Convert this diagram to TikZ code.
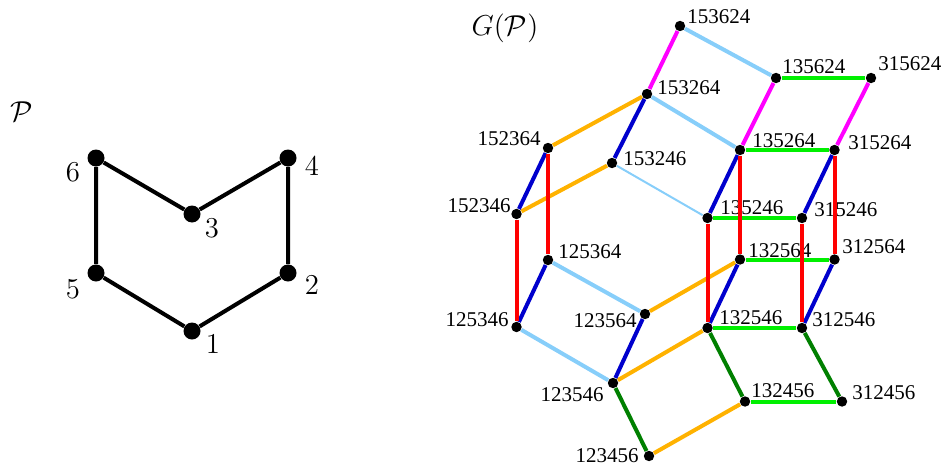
\documentclass[tikz,border=0pt]{standalone}
\usepackage{amsmath,amssymb}
\usepackage{fontspec}
\newfontfamily\permfont{Liberation Serif}
\definecolor{flipmag}{RGB}{255,0,255}
\definecolor{flipsky}{RGB}{135,206,250}
\definecolor{flipgrn}{RGB}{0,240,0}
\definecolor{fliporg}{RGB}{255,178,0}
\definecolor{flipblu}{RGB}{0,0,205}
\definecolor{flipred}{RGB}{255,0,0}
\definecolor{flipdkg}{RGB}{0,128,0}

\begin{document}
\begin{tikzpicture}[x=0.5pt, y=-0.5pt,
                    pdot/.style={circle, fill=black, inner sep=0pt, minimum size=8.5pt},
                    gdot/.style={circle, fill=black, inner sep=0pt, minimum size=5.2pt},
                    pnum/.style={font=\Large, inner sep=0pt},
                    perm/.style={font=\permfont\fontsize{10.5}{12}\selectfont, inner sep=0pt},
                    cover/.style={line width=2pt},
                    flip/.style={line width=2pt}]
  \useasboundingbox (0,0) rectangle (945,465);

  % the poset P
  \node[pnum] (ptitle) at (22,112) {$\mathcal P$};
  \node[pdot] (p1) at (192,331) {};
  \node[pdot] (p2) at (288,273) {};
  \node[pdot] (p3) at (192,214) {};
  \node[pdot] (p4) at (288,158) {};
  \node[pdot] (p5) at (96,273)  {};
  \node[pdot] (p6) at (96,158)  {};
  \node[pnum] (q1) at (213,344) {1};
  \node[pnum] (q2) at (312,285) {2};
  \node[pnum] (q3) at (212,228) {3};
  \node[pnum] (q4) at (312,166) {4};
  \node[pnum] (q5) at (73,289)  {5};
  \node[pnum] (q6) at (73,172)  {6};
  \draw[cover] (p6) -- (p3) -- (p4) -- (p2) -- (p1) -- (p5) -- (p6);

  % its graph of linear extensions
  \node[pnum] (gtitle) at (505,28) {$G(\mathcal P)$};
  \node[gdot] (v153624) at (680,26)    {};
  \node[gdot] (v153264) at (647,94)    {};
  \node[gdot] (v135624) at (776,78)    {};
  \node[gdot] (v315624) at (871,78)    {};
  \node[gdot] (v152364) at (548,148)   {};
  \node[gdot] (v153246) at (612,163)   {};
  \node[gdot] (v135264) at (740,150)   {};
  \node[gdot] (v315264) at (834.5,150) {};
  \node[gdot] (v152346) at (516.5,214) {};
  \node[gdot] (v135246) at (707.5,218) {};
  \node[gdot] (v315246) at (802,218)   {};
  \node[gdot] (v125364) at (548,260)   {};
  \node[gdot] (v132564) at (740,259.5) {};
  \node[gdot] (v312564) at (834.5,259.5) {};
  \node[gdot] (v125346) at (516.5,327) {};
  \node[gdot] (v123564) at (645,314)   {};
  \node[gdot] (v132546) at (707.5,328) {};
  \node[gdot] (v312546) at (802,328)   {};
  \node[gdot] (v123546) at (613,383)   {};
  \node[gdot] (v132456) at (745,401.5) {};
  \node[gdot] (v312456) at (842,401.5) {};
  \node[gdot] (v123456) at (649,456)   {};

  \node[perm, anchor=base west] (l153624) at (687,24)  {153624};
  \node[perm, anchor=base west] (l153264) at (657,94)  {153264};
  \node[perm, anchor=base west] (l135624) at (782,74)  {135624};
  \node[perm, anchor=base west] (l315624) at (878,71)  {315624};
  \node[perm, anchor=base east] (l152364) at (541,145) {152364};
  \node[perm, anchor=base west] (l153246) at (623,165) {153246};
  \node[perm, anchor=base west] (l135264) at (752,147) {135264};
  \node[perm, anchor=base west] (l315264) at (848,149) {315264};
  \node[perm, anchor=base east] (l152346) at (511,212) {152346};
  \node[perm, anchor=base west] (l135246) at (720,214) {135246};
  \node[perm, anchor=base west] (l315246) at (814,216) {315246};
  \node[perm, anchor=base west] (l125364) at (558,258) {125364};
  \node[perm, anchor=base west] (l132564) at (748,257) {132564};
  \node[perm, anchor=base west] (l312564) at (842,253) {312564};
  \node[perm, anchor=base east] (l125346) at (509,326) {125346};
  \node[perm, anchor=base east] (l123564) at (637,327) {123564};
  \node[perm, anchor=base west] (l132546) at (719,324) {132546};
  \node[perm, anchor=base west] (l312546) at (812,326) {312546};
  \node[perm, anchor=base east] (l123546) at (604,401) {123546};
  \node[perm, anchor=base west] (l132456) at (751,397) {132456};
  \node[perm, anchor=base west] (l312456) at (852,399) {312456};
  \node[perm, anchor=base east] (l123456) at (639,462) {123456};

  % one colour per swapped pair
  \draw[flip, flipmag] (v153624) -- (v153264);
  \draw[flip, flipmag] (v135624) -- (v135264);
  \draw[flip, flipmag] (v315624) -- (v315264);

  \draw[flip, flipsky] (v153624) -- (v135624);
  \draw[flip, flipsky] (v153264) -- (v135264);
  \draw[flipsky, line width=1pt] (v153246) -- (v135246);
  \draw[flip, flipsky] (v125364) -- (v123564);
  \draw[flip, flipsky] (v125346) -- (v123546);

  \draw[flip, flipgrn] (v135624) -- (v315624);
  \draw[flip, flipgrn] (v135264) -- (v315264);
  \draw[flip, flipgrn] (v135246) -- (v315246);
  \draw[flip, flipgrn] (v132564) -- (v312564);
  \draw[flip, flipgrn] (v132546) -- (v312546);
  \draw[flip, flipgrn] (v132456) -- (v312456);

  \draw[flip, fliporg] (v152364) -- (v153264);
  \draw[flip, fliporg] (v152346) -- (v153246);
  \draw[flip, fliporg] (v123564) -- (v132564);
  \draw[flip, fliporg] (v123546) -- (v132546);
  \draw[flip, fliporg] (v123456) -- (v132456);

  \draw[flip, flipblu] (v152364) -- (v152346);
  \draw[flip, flipblu] (v153264) -- (v153246);
  \draw[flip, flipblu] (v125364) -- (v125346);
  \draw[flip, flipblu] (v123564) -- (v123546);
  \draw[flip, flipblu] (v135264) -- (v135246);
  \draw[flip, flipblu] (v315264) -- (v315246);
  \draw[flip, flipblu] (v132564) -- (v132546);
  \draw[flip, flipblu] (v312564) -- (v312546);

  \draw[flip, flipred] (v152364) -- (v125364);
  \draw[flip, flipred] (v152346) -- (v125346);
  \draw[flip, flipred] (v135264) -- (v132564);
  \draw[flip, flipred] (v135246) -- (v132546);
  \draw[flip, flipred] (v315264) -- (v312564);
  \draw[flip, flipred] (v315246) -- (v312546);

  \draw[flip, flipdkg] (v123546) -- (v123456);
  \draw[flip, flipdkg] (v132546) -- (v132456);
  \draw[flip, flipdkg] (v312546) -- (v312456);
\end{tikzpicture}
\end{document}
